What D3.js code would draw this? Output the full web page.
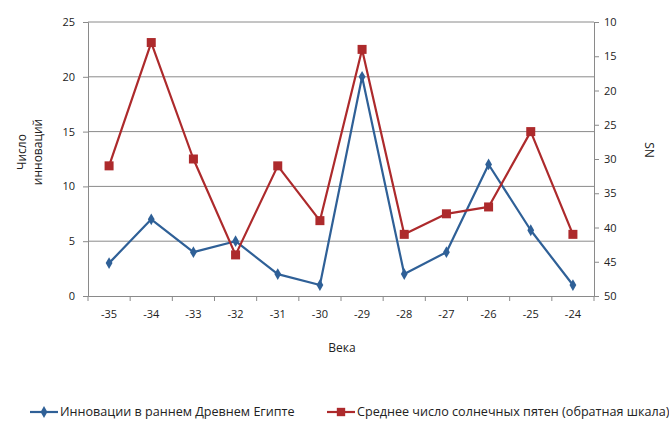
<!DOCTYPE html>
<html>
<head>
<meta charset="utf-8">
<script src="https://cdn.jsdelivr.net/npm/d3@7.9.0/dist/d3.min.js"></script>
<style>
  body { margin: 0; background: #fff; }
  text { font-family: "Open Sans", "DejaVu Sans", sans-serif; fill: #222; }
</style>
</head>
<body>
<div id="chart"></div>
<script>
const centuries = ["-35", "-34", "-33", "-32", "-31", "-30", "-29", "-28", "-27", "-26", "-25", "-24"];
const innovations = [3, 7, 4, 5, 2, 1, 20, 2, 4, 12, 6, 1];
const sunspots = [31, 13, 30, 44, 31, 39, 14, 41, 38, 37, 26, 41];
const leftTicks = [0, 5, 10, 15, 20, 25];
const rightTicks = [10, 15, 20, 25, 30, 35, 40, 45, 50];

const width = 669, height = 424;
const margin = { top: 22, right: 75, bottom: 128, left: 88 };
const innerW = width - margin.left - margin.right;
const innerH = height - margin.top - margin.bottom;

const blue = "#2f6097", red = "#ad2a2c";

const svg = d3.select("#chart").append("svg")
  .attr("width", width)
  .attr("height", height);

const g = svg.append("g")
  .attr("transform", `translate(${margin.left},${margin.top})`);

const x = d3.scaleBand().domain(centuries).range([0, innerW]);
const yL = d3.scaleLinear().domain([0, 25]).range([innerH, 0]);
// reversed right scale: 10 at top, 50 at bottom
const yR = d3.scaleLinear().domain([10, 50]).range([0, innerH]);

// gridlines
g.append("g")
  .selectAll("line")
  .data(leftTicks.filter(d => d > 0))
  .join("line")
    .attr("x1", 0).attr("x2", innerW)
    .attr("y1", d => yL(d)).attr("y2", d => yL(d))
    .attr("stroke", "#8a8a8a")
    .attr("stroke-width", 1);

// left axis
const leftAxis = g.append("g")
  .call(d3.axisLeft(yL).tickValues(leftTicks).tickSize(5).tickPadding(8));
leftAxis.select(".domain").attr("stroke", "#8a8a8a");
leftAxis.selectAll(".tick line").attr("stroke", "#8a8a8a");
leftAxis.selectAll(".tick text").attr("font-size", 11);

// right axis
const rightAxis = g.append("g")
  .attr("transform", `translate(${innerW},0)`)
  .call(d3.axisRight(yR).tickValues(rightTicks).tickSize(5).tickPadding(5));
rightAxis.select(".domain").attr("stroke", "#8a8a8a");
rightAxis.selectAll(".tick line").attr("stroke", "#8a8a8a");
rightAxis.selectAll(".tick text").attr("font-size", 11);

// bottom axis with ticks at band boundaries
const bottomAxis = g.append("g")
  .attr("transform", `translate(0,${innerH})`)
  .call(d3.axisBottom(x).tickSize(0).tickPadding(14));
bottomAxis.select(".domain").attr("stroke", "#8a8a8a");
bottomAxis.selectAll(".tick text").attr("font-size", 11);
bottomAxis.append("g")
  .selectAll("line")
  .data(centuries.concat(["end"]))
  .join("line")
    .attr("x1", (d, i) => i * x.step())
    .attr("x2", (d, i) => i * x.step())
    .attr("y1", 0).attr("y2", 5)
    .attr("stroke", "#8a8a8a");

const cx = d => x(d) + x.bandwidth() / 2;

// blue series
g.append("path")
  .datum(centuries.map((c, i) => [cx(c), yL(innovations[i])]))
  .attr("fill", "none")
  .attr("stroke", blue)
  .attr("stroke-width", 2.2)
  .attr("stroke-linejoin", "round")
  .attr("d", d3.line());

g.append("g")
  .selectAll("path")
  .data(centuries)
  .join("path")
    .attr("transform", (c, i) => `translate(${cx(c)},${yL(innovations[i])})`)
    .attr("d", d3.symbol(d3.symbolDiamond, 40)())
    .attr("fill", blue);

// red series
g.append("path")
  .datum(centuries.map((c, i) => [cx(c), yR(sunspots[i])]))
  .attr("fill", "none")
  .attr("stroke", red)
  .attr("stroke-width", 2.2)
  .attr("stroke-linejoin", "round")
  .attr("d", d3.line());

g.append("g")
  .selectAll("rect")
  .data(centuries)
  .join("rect")
    .attr("x", c => cx(c) - 4.5)
    .attr("y", (c, i) => yR(sunspots[i]) - 4.5)
    .attr("width", 9).attr("height", 9)
    .attr("fill", red);

// axis titles
svg.append("text")
  .attr("transform", "translate(26,152) rotate(-90)")
  .attr("text-anchor", "middle")
  .attr("font-size", 12)
  .selectAll("tspan")
  .data(["Число", "инноваций"])
  .join("tspan")
    .attr("x", 0)
    .attr("dy", (d, i) => i === 0 ? 0 : 16)
    .text(d => d);

svg.append("text")
  .attr("transform", "translate(645,150) rotate(90)")
  .attr("text-anchor", "middle")
  .attr("font-size", 12)
  .text("SN");

svg.append("text")
  .attr("x", margin.left + innerW / 2 + 1)
  .attr("y", 352)
  .attr("text-anchor", "middle")
  .attr("font-size", 12)
  .text("Века");

// legend
const legendItems = [
  { label: "Инновации в раннем Древнем Египте", color: blue, marker: "diamond", x: 30 },
  { label: "Среднее число солнечных пятен (обратная шкала)", color: red, marker: "square", x: 327 }
];
const legend = svg.append("g").attr("transform", "translate(0,412)");
const li = legend.selectAll("g")
  .data(legendItems)
  .join("g")
    .attr("transform", d => `translate(${d.x},0)`);
li.append("line")
  .attr("x1", 0).attr("x2", 28)
  .attr("stroke", d => d.color)
  .attr("stroke-width", 2.2);
li.append("path")
  .attr("transform", "translate(14,0)")
  .attr("d", d => d.marker === "diamond"
    ? d3.symbol(d3.symbolDiamond, 40)()
    : d3.symbol(d3.symbolSquare, 70)())
  .attr("fill", d => d.color);
li.append("text")
  .attr("x", 30)
  .attr("dy", "0.35em")
  .attr("font-size", 12.6)
  .text(d => d.label);
</script>
</body>
</html>
